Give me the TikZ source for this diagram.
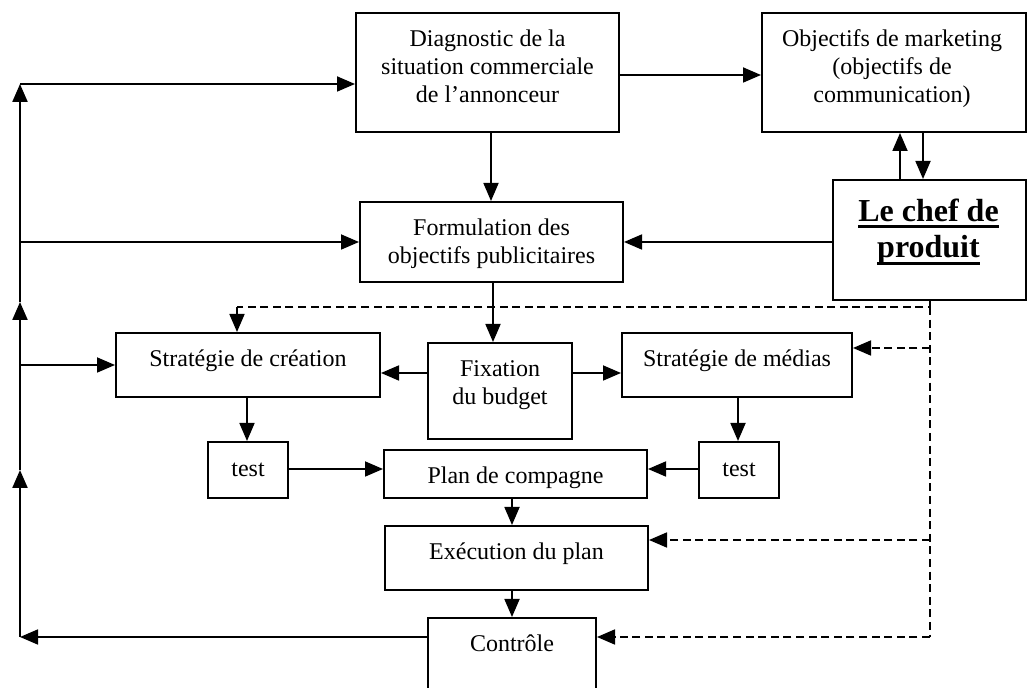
\documentclass[tikz,border=0pt]{standalone}
\usepackage{fontspec}
\setmainfont{Liberation Serif}
\usetikzlibrary{arrows.meta}
% bold underline at a fixed depth below the baseline
\newcommand\chefline[1]{\setbox0=\hbox{#1}\rlap{\rule[-3.4pt]{\wd0}{1.4pt}}\box0}
\begin{document}
\begin{tikzpicture}[x=0.5pt,y=-0.5pt,
  box/.style={draw, line width=1pt, inner sep=0pt},
  txt/.style={font=\fontsize{12}{13.8}\selectfont, align=center, inner sep=0pt,
              anchor=north},
  tip/.tip={Triangle[length=9pt,width=7.5pt]},
  arr/.style={line width=0.9pt, -tip},
  fbarr/.style={line width=1.1pt, -tip},
  dline/.style={line width=0.9pt, dash pattern=on 4pt off 2.3pt},
  darr/.style={dline, -tip}]

\useasboundingbox (0,0) rectangle (1028,688);
\clip (0,0) rectangle (1028,688);

% boxes
\node[box, minimum width=131.5pt, minimum height=59.5pt] (diag)     at (487.5,72.5) {};
\node[box, minimum width=132pt,   minimum height=59.5pt] (obj)      at (894,72.5)   {};
\node[box, minimum width=96.5pt,  minimum height=60pt]   (chef)     at (929.5,240)  {};
\node[box, minimum width=131.5pt, minimum height=40pt]   (form)     at (491.5,242)  {};
\node[box, minimum width=132pt,   minimum height=32pt]   (creation) at (248,365)    {};
\node[box, minimum width=72pt,    minimum height=48pt]   (fix)      at (500,391)    {};
\node[box, minimum width=115pt,   minimum height=32pt]   (medias)   at (737,365)    {};
\node[box, minimum width=40pt,    minimum height=28pt]   (testA)    at (248,470)    {};
\node[box, minimum width=40pt,    minimum height=28pt]   (testB)    at (739,470)    {};
\node[box, minimum width=131.5pt, minimum height=24pt]   (plan)     at (515.5,474)  {};
\node[box, minimum width=131.5pt, minimum height=32pt]   (exec)     at (516.5,558)  {};
\node[box, minimum width=84pt,    minimum height=46pt]   (ctrl)     at (512,664)    {};

% box texts (a strut on the first line fixes its height)
\node[txt] (diagT) at ([yshift=-7.6pt]diag.north) {\strut Diagnostic de la\\situation commerciale\\de l’annonceur};
\node[txt] (objT) at ([xshift=-1pt,yshift=-7.6pt]obj.north) {\strut Objectifs de marketing\\(objectifs de\\communication)};
\node[txt, font=\fontsize{16}{18.4}\selectfont\bfseries] (chefT) at ([xshift=-0.5pt,yshift=-8pt]chef.north)
  {\strut\chefline{Le chef de}\\\chefline{produit}};
\node[txt] (formT) at ([yshift=-7.6pt]form.north) {\strut Formulation des\\objectifs publicitaires};
\node[txt] (creationT) at ([yshift=-7.4pt]creation.north) {\strut Stratégie de création};
\node[txt] (fixT) at ([yshift=-7.6pt]fix.north) {\strut Fixation\\du budget};
\node[txt] (mediasT) at ([yshift=-7.4pt]medias.north) {\strut Stratégie de médias};
\node[txt] (testAT) at ([yshift=-7.8pt]testA.north) {\strut test};
\node[txt] (testBT) at ([yshift=-7.8pt]testB.north) {\strut test};
\node[txt] (planT) at ([yshift=-7.6pt]plan.north) {\strut Plan de compagne};
\node[txt] (execT) at ([yshift=-7.6pt]exec.north) {\strut Exécution du plan};
\node[txt] (ctrlT) at ([yshift=-7.6pt]ctrl.north) {\strut Contrôle};

% main flow
\draw[arr] (diag.east |- 0,75) -- (obj.west |- 0,75);
\draw[arr] (diag.south -| 491,0) -- (form.north -| 491,0);
\draw[arr] (chef.north -| 900,0) -- (obj.south -| 900,0);
\draw[arr] (obj.south -| 923,0) -- (chef.north -| 923,0);
\draw[arr] (chef.west |- 0,242) -- (form.east |- 0,242);
\draw[arr] (form.south -| 493,0) -- (fix.north -| 493,0);
\draw[arr] (fix.west |- 0,373) -- (creation.east |- 0,373);
\draw[arr] (fix.east |- 0,373) -- (medias.west |- 0,373);
\draw[arr] (creation.south -| 247,0) -- (testA.north -| 247,0);
\draw[arr] (medias.south -| 738,0) -- (testB.north -| 738,0);
\draw[arr] (testA.east |- 0,469) -- (plan.west |- 0,469);
\draw[arr] (testB.west |- 0,469) -- (plan.east |- 0,469);
\draw[arr] (plan.south -| 512,0) -- (exec.north -| 512,0);
\draw[arr] (exec.south -| 512,0) -- (ctrl.north -| 512,0);

% feedback loop on the left
\coordinate (fbB) at (20,637);
\coordinate (fb1) at (20,470);
\coordinate (fb2) at (20,302);
\coordinate (fbT) at (20,84);
\coordinate (fbF) at (20,242);
\coordinate (fbC) at (20,365);
\draw[arr] (ctrl.west |- fbB) -- (fbB);
\draw[fbarr] (fbB) -- (fb1);
\draw[fbarr] (fb1) -- (fb2);
\draw[fbarr] (fb2) -- (fbT);
\draw[arr] (fbT) -- (diag.west |- fbT);
\draw[arr] (fbF) -- (form.west |- fbF);
\draw[arr] (fbC) -- (creation.west |- fbC);

% dashed control lines from the product manager
\coordinate (dA) at (930,307);
\coordinate (dB) at (237,307);
\coordinate (dM) at (930,348);
\coordinate (dX) at (930,540);
\coordinate (dE) at (930,637);
\draw[dline] (chef.south -| dA) -- (dA) -- (dB);
\draw[darr] (dB) -- (creation.north -| dB);
\draw[dline] (dA) -- (dE);
\draw[darr] (dM) -- (medias.east |- dM);
\draw[darr] (dX) -- (exec.east |- dX);
\draw[darr] (dE) -- (ctrl.east |- dE);
\end{tikzpicture}
\end{document}
